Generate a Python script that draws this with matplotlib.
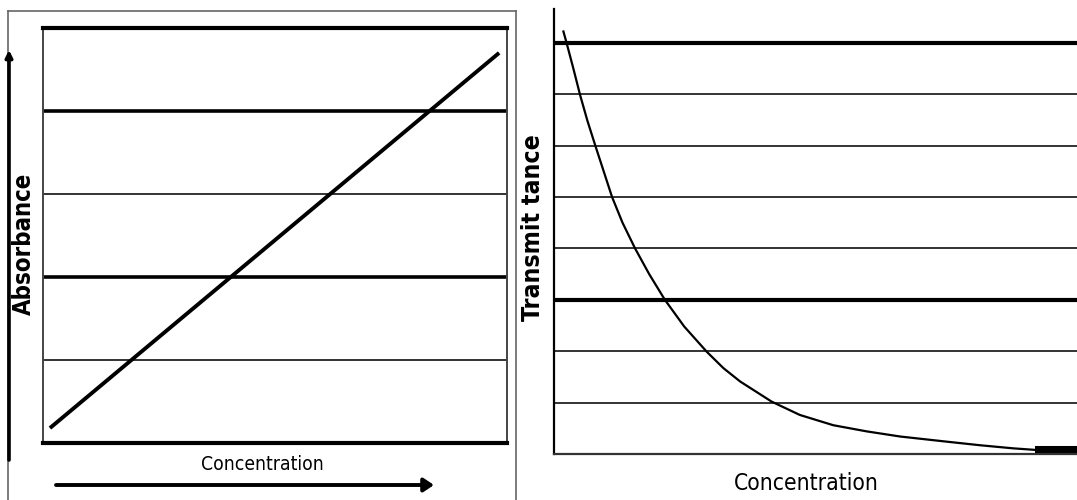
import matplotlib
matplotlib.use('Agg')
import matplotlib.pyplot as plt
from matplotlib.patches import FancyArrowPatch

# left panel: absorbance vs concentration (straight line)
abs_conc = [0.15, 9.83]
absorbance = [0.18, 4.70]
abs_grid = [1, 2, 3, 4]
abs_grid_bold = [2, 4]

# right panel: transmittance vs concentration (decay curve)
trans_conc = [0.18, 0.24, 0.37, 0.50, 0.64, 0.79, 0.95, 1.11, 1.31, 1.55, 1.82, 2.12,
              2.49, 2.92, 3.24, 3.56, 4.16, 4.70, 5.34, 5.98, 6.62, 7.51, 8.15, 8.78, 9.20]
transmittance = [8.22, 8.00, 7.50, 6.98, 6.48, 6.00, 5.50, 5.00, 4.50, 4.00, 3.50, 3.00,
                 2.48, 1.99, 1.67, 1.41, 1.02, 0.76, 0.56, 0.44, 0.34, 0.24, 0.17, 0.11, 0.08]
tail_conc = [9.20, 10.0]
tail_val = [0.08, 0.08]
trans_grid = [1, 2, 3, 4, 5, 6, 7, 8]
trans_grid_bold = [3, 8]

W, H = 1077, 500
FONT = ['DejaVu Sans']

def px(x0, y0, x1, y1):
    # pixel box (top-left origin) -> figure fraction rect
    return [x0 / W, 1 - y1 / H, (x1 - x0) / W, (y1 - y0) / H]

def fit(txt, length, vertical=False):
    # scale font size so the label covers about the same length as in the picture
    r = fig.canvas.get_renderer()
    for _ in range(3):
        bb = txt.get_window_extent(r)
        cur = bb.height if vertical else bb.width
        txt.set_fontsize(txt.get_fontsize() * length / cur)

fig = plt.figure(figsize=(W / 100, H / 100), dpi=100)

### outer frame round the left panel
frame = fig.add_axes(px(8, 11, 516, 502))
frame.set_xticks([]); frame.set_yticks([])
frame.patch.set_alpha(0)
for s in ('left', 'top', 'right'):
    frame.spines[s].set_linewidth(1.2)
    frame.spines[s].set_color('#666666')
frame.spines['bottom'].set_visible(False)

### left panel
ax1 = fig.add_axes(px(43, 28, 507, 443))
ax1.set_xlim(0, 10)
ax1.set_ylim(0, 5)
ax1.set_xticks([]); ax1.set_yticks([])
for y in abs_grid:
    bold = y in abs_grid_bold
    ax1.axhline(y, color='black' if bold else '#333333', lw=2.6 if bold else 1.4)
ax1.plot(abs_conc, absorbance, color='black', lw=2.8, solid_capstyle='butt')
ax1.spines['top'].set_linewidth(3.0)
ax1.spines['bottom'].set_linewidth(3.0)
for s in ('left', 'right'):
    ax1.spines[s].set_linewidth(1.4)
    ax1.spines[s].set_color('#444444')

# arrows along the axes of the left panel
fig.add_artist(FancyArrowPatch((9 / W, 1 - 460 / H), (9 / W, 1 - 50 / H), transform=fig.transFigure,
                               arrowstyle='-|>,head_length=4,head_width=2', lw=2.6, color='black',
                               mutation_scale=1, shrinkA=0, shrinkB=0))
fig.add_artist(FancyArrowPatch((56 / W, 1 - 485 / H), (434 / W, 1 - 485 / H), transform=fig.transFigure,
                               arrowstyle='-|>,head_length=6,head_width=4', lw=2.8, color='black',
                               mutation_scale=1, shrinkA=0, shrinkB=0))

t1 = fig.text(24 / W, 1 - 244 / H, 'Absorbance', rotation=90, ha='center', va='center',
              fontsize=16, fontweight='bold', fontstretch='condensed', family=FONT)
t2 = fig.text(262 / W, 1 - 464 / H, 'Concentration', ha='center', va='center',
              fontsize=14, fontstretch='condensed', family=FONT)

### right panel
ax2 = fig.add_axes(px(554, 9, 1077, 454))
ax2.set_xlim(0, 10)
ax2.set_ylim(0, (454 - 9) / 51.4)
ax2.set_xticks([]); ax2.set_yticks([])
for y in trans_grid:
    bold = y in trans_grid_bold
    ax2.axhline(y, color='black' if bold else '#333333', lw=3.0 if bold else 1.4)
ax2.plot(trans_conc, transmittance, color='black', lw=1.6, solid_joinstyle='round')
ax2.plot(tail_conc, tail_val, color='black', lw=5.8, solid_capstyle='butt', clip_on=False)
ax2.spines['top'].set_visible(False)
ax2.spines['right'].set_visible(False)
ax2.spines['left'].set_linewidth(1.6)
ax2.spines['bottom'].set_linewidth(1.6)
ax2.spines['bottom'].set_color('#333333')

t3 = fig.text(533 / W, 1 - 228 / H, 'Transmit tance', rotation=90, ha='center', va='center',
              fontsize=18, fontweight='bold', fontstretch='condensed', family=FONT)
t4 = fig.text(806 / W, 1 - 484 / H, 'Concentration', ha='center', va='center',
              fontsize=16, fontstretch='condensed', family=FONT)

fit(t1, 143, vertical=True)
fit(t2, 122)
fit(t3, 187, vertical=True)
fit(t4, 145)

fig.savefig('out.png', dpi=100)
